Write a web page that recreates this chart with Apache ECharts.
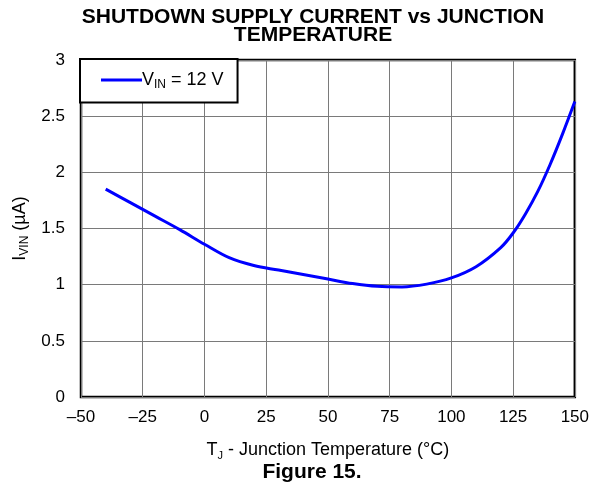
<!DOCTYPE html>
<html>
<head>
<meta charset="utf-8">
<script src="https://cdn.jsdelivr.net/npm/echarts@6/dist/echarts.min.js"></script>
<style>html,body{margin:0;padding:0;background:#fff}#c{width:592px;height:488px}</style>
</head>
<body>
<div id="c"></div>
<script>
const titleLines = ['SHUTDOWN SUPPLY CURRENT vs JUNCTION', 'TEMPERATURE'];
const temps = [-40, -30, -20, -10, 0, 10, 20, 30, 40, 50, 60, 70, 80, 90, 100, 110, 120, 125, 130, 135, 140, 145, 150];
const current = [1.85, 1.73, 1.61, 1.49, 1.36, 1.24, 1.17, 1.13, 1.09, 1.05, 1.01, 0.985, 0.98, 1.005, 1.06, 1.16, 1.33, 1.46, 1.63, 1.83, 2.07, 2.34, 2.63];
const xTicks = [-50, -25, 0, 25, 50, 75, 100, 125, 150];
const yTicks = [0, 0.5, 1, 1.5, 2, 2.5, 3];

const FONT = '"Liberation Sans", Arial, sans-serif';
const chart = echarts.init(document.getElementById('c'));
chart.setOption({
  animation: false,
  backgroundColor: '#fff',
  graphic: [
    { type: 'text', x: 313, y: 17.5, style: { text: titleLines[0], font: 'bold 21px ' + FONT, fill: '#000', align: 'center', verticalAlign: 'middle' } },
    { type: 'text', x: 313, y: 35.5, style: { text: titleLines[1], font: 'bold 21px ' + FONT, fill: '#000', align: 'center', verticalAlign: 'middle' } },
    { type: 'text', x: 312, y: 472, style: { text: 'Figure 15.', font: 'bold 21px ' + FONT, fill: '#000', align: 'center', verticalAlign: 'middle' } }
  ],
  legend: {
    left: 80, top: 59,
    orient: 'vertical',
    padding: [12, 14, 12, 21],
    borderColor: '#000', borderWidth: 2,
    backgroundColor: '#fff',
    itemWidth: 41, itemHeight: 3, itemGap: 0,
    data: [{ name: 'vin', icon: 'rect' }],
    formatter: function () { return 'V{s|IN} = 12 V'; },
    textStyle: {
      fontFamily: FONT, fontSize: 18, color: '#000', padding: [0, 0, 0, -5],
      rich: { s: { fontFamily: FONT, fontSize: 12, verticalAlign: 'bottom', padding: [9, 0, 0, 0], color: '#000' } }
    }
  },
  grid: { left: 81, right: 16, top: 60, bottom: 91, show: true, borderColor: '#000', borderWidth: 2.5, backgroundColor: 'transparent' },
  xAxis: {
    type: 'value', min: -50, max: 150, interval: 25,
    axisLine: { show: false }, axisTick: { show: false },
    splitLine: { show: true, lineStyle: { color: '#7a7a7a', width: 1 } },
    axisLabel: {
      fontFamily: FONT, fontSize: 17, color: '#000', margin: 12,
      formatter: function (v) { return xTicks.indexOf(v) >= 0 ? String(v).replace('-', '\u2013') : ''; }
    },
    name: 'T{s|J} - Junction Temperature (°C)',
    nameLocation: 'middle', nameGap: 43,
    nameTextStyle: {
      fontFamily: FONT, fontSize: 18, color: '#000',
      rich: { s: { fontFamily: FONT, fontSize: 11, verticalAlign: 'bottom', padding: [10, 0, 0, 0], color: '#000' } }
    }
  },
  yAxis: {
    type: 'value', min: 0, max: 3, interval: 0.5,
    axisLine: { show: false }, axisTick: { show: false },
    splitLine: { show: true, lineStyle: { color: '#7a7a7a', width: 1 } },
    axisLabel: {
      fontFamily: FONT, fontSize: 17, color: '#000', margin: 16,
      formatter: function (v) { return yTicks.indexOf(v) >= 0 ? String(v) : ''; }
    },
    name: 'I{s|VIN} (µA)',
    nameLocation: 'middle', nameGap: 49, nameRotate: 90,
    nameTextStyle: {
      fontFamily: FONT, fontSize: 18, color: '#000',
      rich: { s: { fontFamily: FONT, fontSize: 12, verticalAlign: 'bottom', padding: [9, 0, 0, 0], color: '#000' } }
    }
  },
  series: [{
    name: 'vin', type: 'line', smooth: 0.35, symbol: 'none',
    lineStyle: { color: '#0000ff', width: 3 },
    itemStyle: { color: '#0000ff' },
    data: temps.map((t, i) => [t, current[i]])
  }]
});
</script>
</body>
</html>
